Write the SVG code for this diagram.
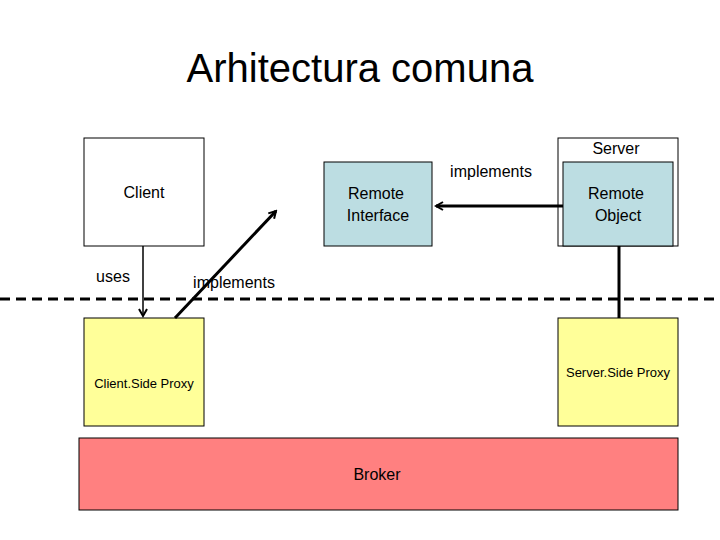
<svg xmlns="http://www.w3.org/2000/svg" width="720" height="540" viewBox="0 0 720 540">
<style>
text{font-family:"Liberation Sans",Arial,sans-serif;fill:#000}
.b{stroke:#000;stroke-width:1}
.l{stroke:#000;stroke-width:3;fill:none}
</style>
<defs>
<marker id="a" markerWidth="10" markerHeight="10" refX="8" refY="5" orient="auto" markerUnits="userSpaceOnUse"><path d="M1,1 L8,5 L1,9" fill="none" stroke="#000" stroke-width="2"/></marker>
</defs>
<rect width="720" height="540" fill="#fff"/>
<text x="360" y="82" font-size="40" text-anchor="middle">Arhitectura comuna</text>
<g id="client"><rect class="b" x="84" y="138" width="120" height="108" fill="#fff"/><text x="144" y="198" font-size="16" text-anchor="middle">Client</text></g>
<g id="server"><rect class="b" x="558" y="138" width="120" height="108" fill="#fff"/><text x="616" y="154" font-size="16" text-anchor="middle">Server</text></g>
<g id="remote-interface"><rect class="b" x="324" y="162" width="108" height="84" fill="#bcdde2"/><text x="376" y="199" font-size="16" text-anchor="middle">Remote</text><text x="378" y="221" font-size="16" text-anchor="middle">Interface</text></g>
<g id="remote-object"><rect class="b" x="563" y="162" width="110" height="84" fill="#bcdde2"/><text x="616" y="199" font-size="16" text-anchor="middle">Remote</text><text x="618" y="221" font-size="16" text-anchor="middle">Object</text></g>
<g id="client-proxy"><rect class="b" x="84" y="318" width="120" height="108" fill="#ffff99"/><text x="144" y="388" font-size="13" text-anchor="middle">Client.Side Proxy</text></g>
<g id="server-proxy"><rect class="b" x="558" y="318" width="120" height="108" fill="#ffff99"/><text x="618" y="377" font-size="13" text-anchor="middle">Server.Side Proxy</text></g>
<g id="broker"><rect class="b" x="79" y="438" width="599" height="72" fill="#ff8080"/><text x="377" y="480" font-size="16" text-anchor="middle">Broker</text></g>
<g id="connectors">
<line x1="0" y1="299" x2="720" y2="299" stroke="#000" stroke-width="3" stroke-dasharray="10,6"/>
<line x1="143" y1="246" x2="143" y2="316" stroke="#000" stroke-width="1.5" marker-end="url(#a)"/>
<line class="l" x1="175" y1="318" x2="276" y2="211" marker-end="url(#a)"/>
<line class="l" x1="563" y1="206" x2="436" y2="206" marker-end="url(#a)"/>
<line class="l" x1="619" y1="246" x2="619" y2="318"/>
</g>
<text x="113" y="282" font-size="16" text-anchor="middle">uses</text>
<text x="234" y="288" font-size="16" text-anchor="middle">implements</text>
<text x="491" y="177" font-size="16" text-anchor="middle">implements</text>
</svg>
